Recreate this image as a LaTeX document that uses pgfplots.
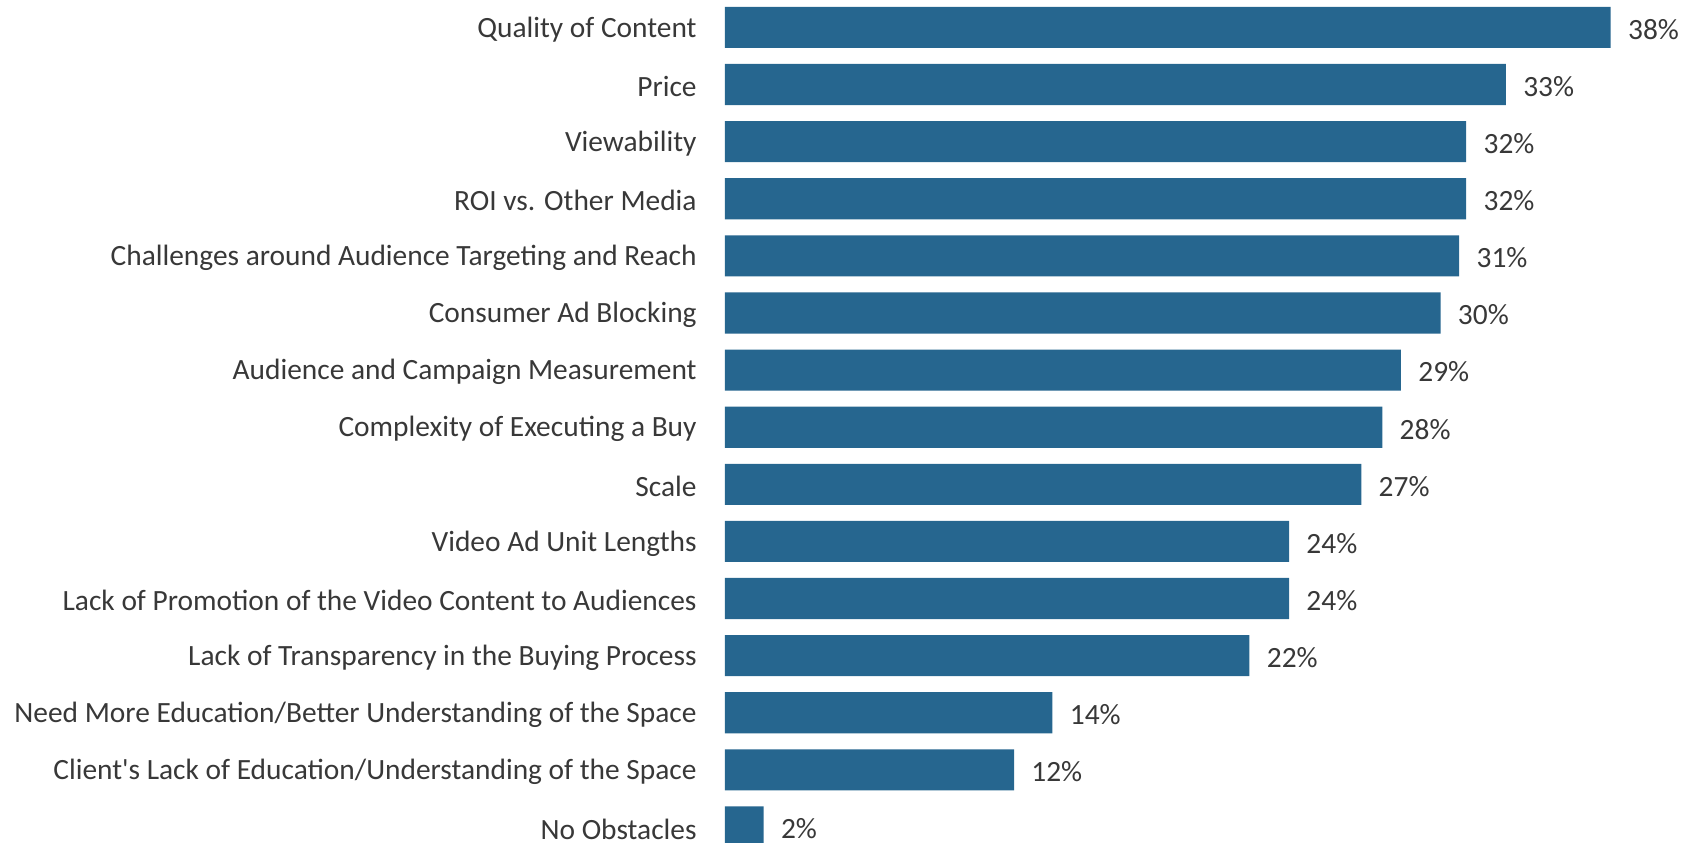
\documentclass[border=0pt]{standalone}
\usepackage{pgfplots}
\pgfplotsset{compat=1.18}
\usepackage{pgfplotstable}
\usepackage{fontspec}
\setmainfont{Carlito}
\definecolor{barblue}{RGB}{38,102,143}
\definecolor{txt}{RGB}{56,56,56}
\pgfplotstableread{
y x lab
0 38.0 38
1 33.5 33
2 31.8 32
3 31.8 32
4 31.5 31
5 30.7 30
6 29.0 29
7 28.2 28
8 27.3 27
9 24.2 24
10 24.2 24
11 22.5 22
12 14.05 14
13 12.4 12
14 1.66 2
}\datatable
\begin{document}
\begin{tikzpicture}
\begin{axis}[
  name=ax,
  xbar,
  scale only axis,
  width=482.5pt, height=421.5pt,
  xmin=0, xmax=41.4,
  ymin=-0.48, ymax=14.28,
  y dir=reverse,
  bar width=0.72,
  axis line style={draw=none},
  xtick=\empty,
  ytick={0,...,14},
  yticklabels={Quality of Content,Price,Viewability,ROI vs. Other Media,Challenges around Audience Targeting and Reach,Consumer Ad Blocking,Audience and Campaign Measurement,Complexity of Executing a Buy,Scale,Video Ad Unit Lengths,Lack of Promotion of the Video Content to Audiences,Lack of Transparency in the Buying Process,Need More Education/Better Understanding of the Space,Client\textquotesingle s Lack of Education/Understanding of the Space,No Obstacles},
  major tick length=0pt,
  ytick style={draw=none},
  yticklabel style={anchor=east, inner sep=0pt, yshift=-1pt, font=\fontsize{14.7}{17}\selectfont, text=txt},
  yticklabel shift=14pt,
  point meta=explicit,
  nodes near coords={\pgfmathprintnumber[precision=0]{\pgfplotspointmeta}\%},
  nodes near coords style={anchor=west, inner sep=0pt, xshift=8.5pt, yshift=-1pt, font=\fontsize{14.7}{17}\selectfont, text=txt, /pgf/number format/assume math mode=true},
  clip=true,
]
\addplot[fill=barblue, draw=none] table[x=x, y=y, meta=lab] {\datatable};
\end{axis}
\pgfresetboundingbox
\path ([xshift=-362.5pt]ax.south west) rectangle (ax.north east);
\end{tikzpicture}
\end{document}
